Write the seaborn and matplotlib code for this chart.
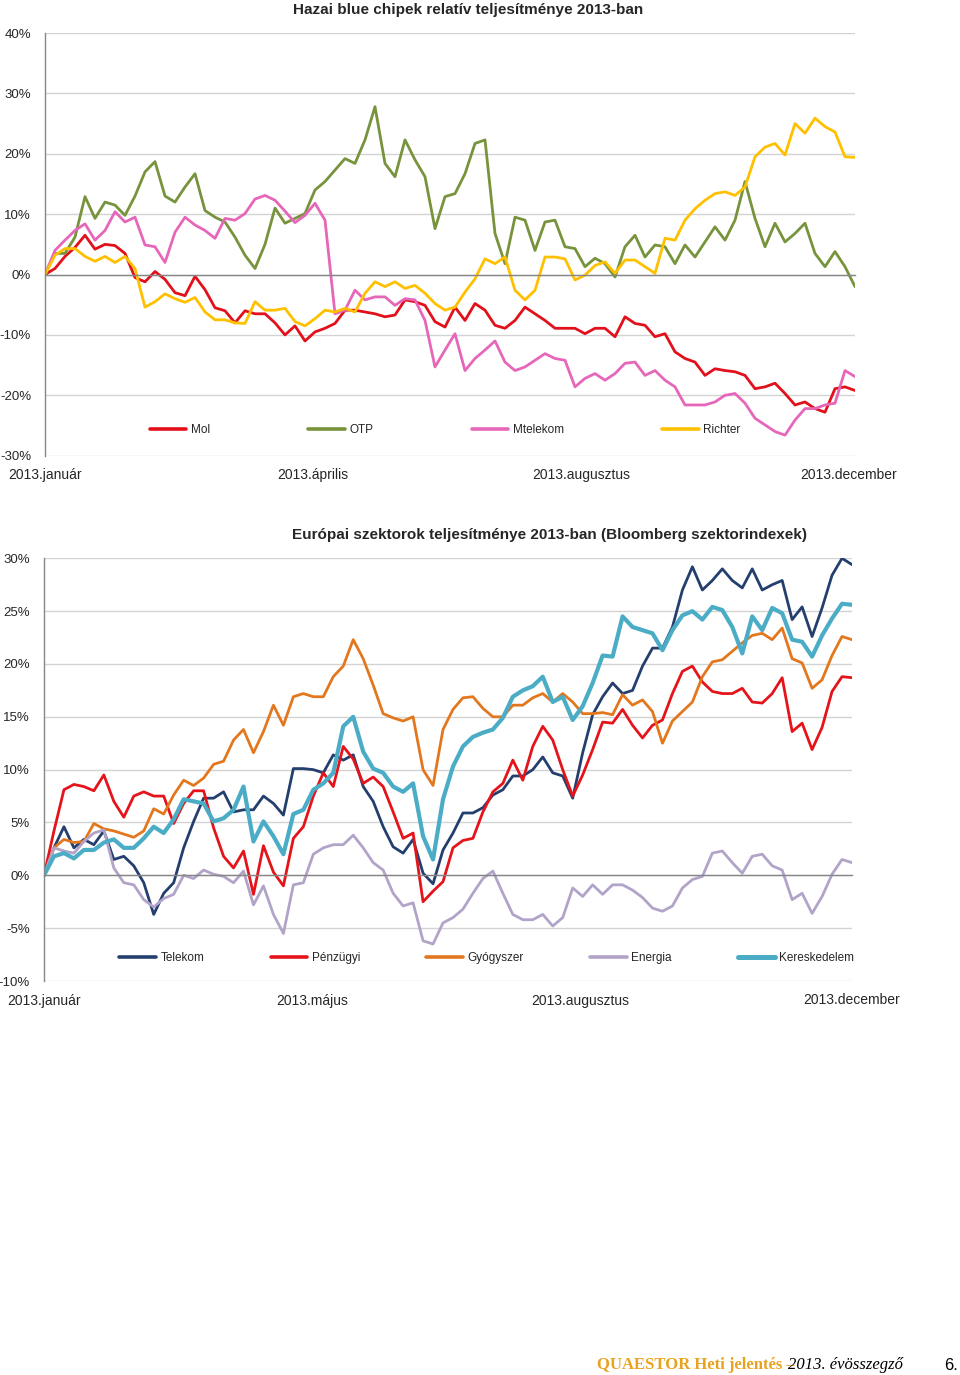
import numpy as np
import pandas as pd
import matplotlib
matplotlib.use("Agg")
import matplotlib.pyplot as plt
from matplotlib.lines import Line2D
import seaborn as sns

# Hazai blue chipek relatív teljesítménye (%)
hu_names = ["Mol", "OTP", "Mtelekom", "Richter"]
mol = [0, 1.0, 3.0, 4.5, 6.5, 4.2, 5.0, 4.8, 3.5, -0.5, -1.2, 0.5, -0.8, -3.0, -3.5, -0.3, -2.5, -5.5, -6.0, -8.0,
       -6.0, -6.5, -6.5, -8.0, -10.0, -8.5, -11.0, -9.5, -8.9, -8.1, -5.9, -5.9, -6.2, -6.5, -7.0, -6.7, -4.2, -4.5, -5.1, -7.8,
       -8.7, -5.4, -7.6, -4.8, -5.9, -8.4, -8.9, -7.6, -5.4, -6.5, -7.6, -8.9, -8.9, -8.9, -9.8, -8.9, -8.9, -10.3, -7.0, -8.1,
       -8.4, -10.3, -9.8, -12.8, -13.9, -14.5, -16.7, -15.6, -15.9, -16.1, -16.7, -18.9, -18.6, -18.0, -19.7, -21.6, -21.1, -22.2, -22.8, -18.9,
       -18.6, -19.2]
otp = [0, 3.5, 3.5, 6.2, 12.9, 9.3, 12.0, 11.5, 9.8, 13.0, 17.0, 18.7, 13.0, 12.0, 14.5, 16.7, 10.6, 9.5, 8.7, 6.2,
       3.2, 1.0, 5.0, 11.0, 8.5, 9.3, 10.1, 14.0, 15.4, 17.3, 19.2, 18.4, 22.3, 27.8, 18.4, 16.2, 22.3, 19.0, 16.2, 7.6,
       12.9, 13.4, 16.7, 21.7, 22.3, 6.8, 1.8, 9.5, 9.0, 4.0, 8.7, 9.0, 4.6, 4.3, 1.3, 2.7, 1.8, -0.4, 4.6, 6.5,
       2.9, 4.9, 4.6, 1.8, 4.9, 2.9, 5.4, 7.9, 5.7, 9.0, 15.4, 9.3, 4.6, 8.5, 5.4, 6.8, 8.5, 3.5, 1.3, 3.8,
       1.3, -2.0]
mtelekom = [0, 4.0, 5.7, 7.3, 8.4, 5.7, 7.3, 10.4, 8.7, 9.5, 4.9, 4.6, 2.0, 7.0, 9.5, 8.2, 7.3, 6.0, 9.3, 9.0,
            10.1, 12.5, 13.1, 12.3, 10.5, 8.6, 9.8, 11.8, 9.0, -6.5, -5.9, -2.6, -4.2, -3.7, -3.7, -5.1, -4.0, -4.2, -7.6, -15.3,
            -12.5, -9.8, -15.9, -13.9, -12.5, -11.0, -14.5, -15.9, -15.3, -14.2, -13.1, -13.9, -14.2, -18.6, -17.2, -16.4, -17.5, -16.4, -14.7, -14.5,
            -16.7, -15.9, -17.5, -18.6, -21.6, -21.6, -21.6, -21.1, -20.0, -19.7, -21.3, -23.8, -24.9, -26.0, -26.6, -24.1, -22.2, -22.2, -21.6, -21.3,
            -15.9, -16.9]
richter = [0, 3.2, 4.3, 4.3, 3.0, 2.2, 3.0, 2.0, 3.0, 1.0, -5.4, -4.5, -3.2, -4.0, -4.6, -3.8, -6.2, -7.5, -7.5, -8.0,
           -8.1, -4.5, -5.9, -5.9, -5.6, -7.8, -8.5, -7.3, -5.9, -6.2, -5.6, -6.2, -3.1, -1.2, -2.0, -1.2, -2.3, -1.8, -3.1, -4.8,
           -5.9, -5.4, -2.9, -0.7, 2.6, 1.8, 2.9, -2.6, -4.2, -2.6, 2.9, 2.9, 2.6, -0.9, -0.1, 1.5, 2.1, 0.2, 2.4, 2.4,
           1.3, 0.2, 6.0, 5.7, 9.0, 10.9, 12.3, 13.4, 13.7, 13.1, 14.5, 19.5, 21.1, 21.7, 19.8, 25.0, 23.4, 25.9, 24.5, 23.6,
           19.5, 19.4]
hu_ticks = ["2013.január", "2013.április", "2013.augusztus", "2013.december"]
hu_tick_pos = [0, 26.8, 53.6, 80.4]

# Európai szektorok teljesítménye (%)
eu_names = ["Telekom", "Pénzügyi", "Gyógyszer", "Energia", "Kereskedelem"]
telekom = [0, 2.6, 4.6, 2.6, 3.4, 2.9, 4.2, 1.5, 1.8, 0.9, -0.7, -3.7, -1.7, -0.7, 2.6, 5.1, 7.3, 7.3, 7.9, 6.0,
           6.2, 6.2, 7.5, 6.8, 5.7, 10.1, 10.1, 10.0, 9.7, 11.4, 10.9, 11.4, 8.4, 7.0, 4.6, 2.7, 2.1, 3.4, 0.2, -0.8,
           2.4, 4.0, 5.9, 5.9, 6.4, 7.6, 8.1, 9.4, 9.4, 10.0, 11.2, 9.7, 9.4, 7.3, 11.6, 15.2, 16.9, 18.2, 17.2, 17.5,
           19.8, 21.5, 21.5, 23.5, 27.0, 29.2, 27.0, 27.9, 29.0, 27.9, 27.2, 29.0, 27.0, 27.5, 27.9, 24.2, 25.4, 22.6, 25.3, 28.4,
           30.0, 29.4]
penzugyi = [0, 4.2, 8.1, 8.6, 8.4, 8.0, 9.5, 7.0, 5.5, 7.5, 7.9, 7.5, 7.5, 4.9, 6.8, 8.0, 8.0, 4.5, 1.8, 0.7,
            2.3, -1.8, 2.8, 0.3, -1.0, 3.5, 4.6, 7.5, 9.7, 8.4, 12.2, 11.0, 8.7, 9.3, 8.4, 6.0, 3.5, 4.0, -2.5, -1.5,
            -0.6, 2.6, 3.3, 3.5, 6.0, 7.9, 8.7, 10.9, 9.0, 12.2, 14.1, 12.8, 10.0, 7.5, 9.5, 11.9, 14.5, 14.4, 15.7, 14.2,
            13.0, 14.2, 14.7, 17.2, 19.3, 19.8, 18.3, 17.4, 17.2, 17.2, 17.7, 16.4, 16.3, 17.2, 18.7, 13.6, 14.4, 11.9, 14.0, 17.4,
            18.8, 18.7]
gyogyszer = [0, 2.6, 3.4, 3.1, 3.2, 4.9, 4.4, 4.2, 3.9, 3.6, 4.2, 6.3, 5.8, 7.6, 9.0, 8.5, 9.2, 10.5, 10.8, 12.8,
             13.8, 11.6, 13.6, 16.1, 14.2, 16.9, 17.2, 16.9, 16.9, 18.8, 19.8, 22.3, 20.5, 18.0, 15.3, 14.9, 14.6, 15.0, 10.0, 8.5,
             13.8, 15.7, 16.8, 16.9, 15.8, 15.0, 15.0, 16.1, 16.1, 16.8, 17.2, 16.4, 17.2, 16.4, 15.3, 15.3, 15.4, 15.2, 17.1, 16.1,
             16.6, 15.5, 12.5, 14.6, 15.5, 16.4, 18.8, 20.2, 20.4, 21.2, 22.0, 22.7, 22.9, 22.3, 23.4, 20.5, 20.1, 17.7, 18.5, 20.8,
             22.6, 22.3]
energia = [0, 2.6, 2.3, 2.1, 3.2, 4.0, 4.3, 0.7, -0.7, -0.9, -2.3, -3.0, -2.2, -1.8, 0.0, -0.3, 0.5, 0.1, -0.1, -0.7,
           0.4, -2.8, -1.0, -3.7, -5.5, -0.9, -0.7, 2.0, 2.6, 2.9, 2.9, 3.8, 2.6, 1.2, 0.5, -1.7, -2.9, -2.6, -6.2, -6.5,
           -4.5, -4.0, -3.2, -1.7, -0.3, 0.4, -1.7, -3.7, -4.2, -4.2, -3.7, -4.8, -4.0, -1.2, -2.0, -0.9, -1.8, -0.9, -0.9, -1.4,
           -2.1, -3.1, -3.4, -2.9, -1.2, -0.4, -0.1, 2.1, 2.3, 1.2, 0.2, 1.8, 2.0, 0.9, 0.5, -2.3, -1.7, -3.6, -2.0, 0.1,
           1.5, 1.2]
kereskedelem = [0, 1.8, 2.1, 1.6, 2.4, 2.4, 3.1, 3.4, 2.6, 2.6, 3.5, 4.6, 4.0, 5.3, 7.2, 7.0, 6.8, 5.1, 5.4, 6.2,
                8.4, 3.2, 5.1, 3.7, 2.0, 5.8, 6.2, 8.1, 8.7, 9.7, 14.1, 15.0, 11.7, 10.1, 9.7, 8.4, 7.9, 8.7, 3.7, 1.5,
                7.2, 10.3, 12.2, 13.1, 13.5, 13.8, 14.9, 16.9, 17.5, 17.9, 18.8, 16.4, 16.9, 14.7, 16.0, 18.2, 20.8, 20.7, 24.5, 23.5,
                23.2, 22.9, 21.3, 23.2, 24.6, 25.0, 24.2, 25.4, 25.1, 23.5, 21.0, 24.5, 23.2, 25.3, 24.8, 22.3, 22.1, 20.7, 22.7, 24.3,
                25.7, 25.6]
eu_ticks = ["2013.január", "2013.május", "2013.augusztus", "2013.december"]
eu_tick_pos = [0, 26.9, 53.8, 81]

hu_colors = {"Mol": "#E2101A", "OTP": "#77933C", "Mtelekom": "#E667B9", "Richter": "#FFC000"}
eu_colors = {"Telekom": "#243F6E", "Pénzügyi": "#E5141B", "Gyógyszer": "#E3771E",
             "Energia": "#B2A3C8", "Kereskedelem": "#4BACC6"}
eu_widths = {"Telekom": 2.0, "Pénzügyi": 2.0, "Gyógyszer": 2.0, "Energia": 2.0, "Kereskedelem": 3.0}

sns.set_style("white")
plt.rcParams["font.family"] = ["Liberation Sans", "DejaVu Sans"]

AXIS_GRAY = "#868686"
GRID_GRAY = "#d3d3d3"


def long_form(names, series):
    frames = [pd.DataFrame({"nap": np.arange(len(v)), "ertek": v, "sorozat": n})
              for n, v in zip(names, series)]
    return pd.concat(frames, ignore_index=True)


def style_axes(ax, ylim, ystep, tick_pos, tick_labels):
    ax.set_xlim(0, 81)
    ax.set_ylim(*ylim)
    ax.set_yticks(np.arange(ylim[0], ylim[1] + 0.1, ystep))
    ax.yaxis.set_major_formatter(matplotlib.ticker.FuncFormatter(lambda v, p: f"{v:.0f}%"))
    ax.yaxis.grid(True, color=GRID_GRAY, lw=1.0)
    ax.xaxis.grid(False)
    for s in ["top", "right"]:
        ax.spines[s].set_visible(False)
    ax.spines["left"].set_color(AXIS_GRAY)
    ax.spines["left"].set_linewidth(1.0)
    # kategória tengely a 0%-nál
    ax.spines["bottom"].set_position(("data", 0))
    ax.spines["bottom"].set_color(AXIS_GRAY)
    ax.spines["bottom"].set_linewidth(1.0)
    ax.set_xticks(tick_pos)
    ax.tick_params(axis="x", direction="out", length=4, color=AXIS_GRAY, labelbottom=False)
    ax.tick_params(axis="y", direction="out", length=4, color=AXIS_GRAY, labelsize=9.5, pad=6)
    ax.set_xlabel("")
    ax.set_ylabel("")
    sec = ax.secondary_xaxis("bottom")
    sec.set_xticks(tick_pos, labels=tick_labels)
    sec.tick_params(length=0, pad=9, labelsize=10)
    sec.spines["bottom"].set_visible(False)


fig = plt.figure(figsize=(9.6, 13.75), dpi=100)

# --- felső diagram ---
ax1 = fig.add_axes([45 / 960, 1 - 455.7 / 1375, 810 / 960, 422.7 / 1375])
df_hu = long_form(hu_names, [mol, otp, mtelekom, richter])
sns.lineplot(data=df_hu, x="nap", y="ertek", hue="sorozat", palette=hu_colors,
             estimator=None, sort=False, lw=2.0, legend=False, ax=ax1)
style_axes(ax1, (-30, 40), 10, hu_tick_pos, hu_ticks)
hu_handles = [Line2D([], [], color=hu_colors[n], lw=2.6) for n in hu_names]
ax1.legend(hu_handles, hu_names, loc="center", bbox_to_anchor=(0.494, 0.061), ncol=4,
           frameon=False, fontsize=8.5, handlelength=3.1, handletextpad=0.4, columnspacing=8.3)
fig.text(468 / 960, 1 - 10 / 1375, "Hazai blue chipek relatív teljesítménye 2013-ban",
         ha="center", va="center", fontsize=11, fontweight="bold")

# --- alsó diagram ---
ax2 = fig.add_axes([44 / 960, 1 - 981 / 1375, 808 / 960, 422.7 / 1375])
df_eu = long_form(eu_names, [telekom, penzugyi, gyogyszer, energia, kereskedelem])
sns.lineplot(data=df_eu, x="nap", y="ertek", hue="sorozat", palette=eu_colors,
             size="sorozat", sizes=eu_widths, estimator=None, sort=False, legend=False, ax=ax2)
style_axes(ax2, (-10, 30), 5, eu_tick_pos, eu_ticks)
eu_handles = [Line2D([], [], color=eu_colors[n], lw=eu_widths[n] + 0.6) for n in eu_names]
ax2.legend(eu_handles, eu_names, loc="center", bbox_to_anchor=(0.548, 0.054), ncol=5,
           frameon=False, fontsize=8.5, handlelength=3.1, handletextpad=0.4, columnspacing=5.6)
fig.text(550 / 960, 1 - 535 / 1375,
         "Európai szektorok teljesítménye 2013-ban (Bloomberg szektorindexek)",
         ha="center", va="center", fontsize=11, fontweight="bold")

# --- lábléc ---
fy = 1 - 1365 / 1375
fig.text(597 / 960, fy, "QUAESTOR Heti jelentés –", ha="left", va="center",
         family=["Liberation Serif", "DejaVu Serif"], fontweight="bold", fontsize=12, color="#E9A21F")
fig.text(788 / 960, fy, "2013. évösszegző", ha="left", va="center",
         family=["Liberation Serif", "DejaVu Serif"], style="italic", fontsize=12, color="black")
fig.text(958 / 960, fy, "6.", ha="right", va="center", fontsize=12, color="black")

fig.savefig("out.png", dpi=100)
